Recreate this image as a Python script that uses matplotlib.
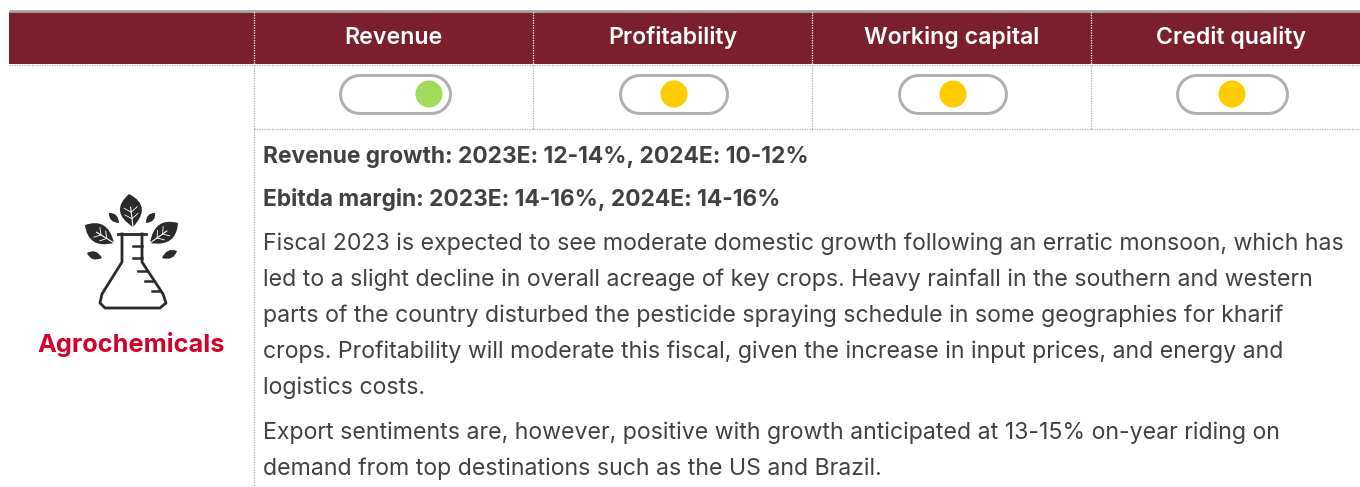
import matplotlib
matplotlib.use('Agg')
import matplotlib.pyplot as plt
from matplotlib.patches import Rectangle, Circle, PathPatch
from matplotlib.path import Path

W, H = 1360, 487
MAROON = '#7a1f2b'
GREY = '#b0b0b0'
TEXT = '#414141'

columns = ['Revenue', 'Profitability', 'Working capital', 'Credit quality']
column_edges = [254, 533, 812, 1091]
column_centers = [393.5, 673, 952, 1231]
pill_edges = [(339, 451), (619, 728), (898, 1007), (1176, 1288)]
dot_x = [429, 674, 953, 1232]
dot_colors = ['#a0dc5a', '#ffcc00', '#ffcc00', '#ffcc00']

bold_lines = ['Revenue growth: 2023E: 12-14%, 2024E: 10-12%',
              'Ebitda margin: 2023E: 14-16%, 2024E: 14-16%']
bold_y = [163, 206]
body_lines = ['Fiscal 2023 is expected to see moderate domestic growth following an erratic monsoon, which has',
              'led to a slight decline in overall acreage of key crops. Heavy rainfall in the southern and western',
              'parts of the country disturbed the pesticide spraying schedule in some geographies for kharif',
              'crops. Profitability will moderate this fiscal, given the increase in input prices, and energy and',
              'logistics costs.',
              'Export sentiments are, however, positive with growth anticipated at 13-15% on-year riding on',
              'demand from top destinations such as the US and Brazil.']
body_y = [250, 286, 322, 358, 394, 439, 475]

plt.rcParams['font.family'] = ['Inter', 'DejaVu Sans']

fig = plt.figure(figsize=(W / 100, H / 100), dpi=100)
ax = fig.add_axes([0, 0, 1, 1])
ax.set_xlim(0, W)
ax.set_ylim(H, 0)
ax.axis('off')


def dotted(xs, ys, color=GREY):
    ax.plot(xs, ys, color=color, lw=0.9, ls=(0, (1, 1)), zorder=2)


def leaf(tip, base, width, vein=True):
    # two curves from the tip to the stem end, bulged either side
    tx, ty = tip
    bx, by = base
    dx, dy = bx - tx, by - ty
    nx, ny = -dy, dx
    ln = (nx ** 2 + ny ** 2) ** 0.5
    nx, ny = nx / ln * width, ny / ln * width
    mx, my = tx + dx * 0.45, ty + dy * 0.45
    verts = [tip, (mx + nx, my + ny), base, (mx - nx, my - ny), tip]
    codes = [Path.MOVETO, Path.CURVE3, Path.CURVE3, Path.CURVE3, Path.CURVE3]
    ax.add_patch(PathPatch(Path(verts, codes), fc='#2b2b2b', ec='none', zorder=4))
    if vein:
        sx, sy = tx + dx * 0.4, ty + dy * 0.4
        ax.plot([sx, bx], [sy, by], color='white', lw=0.8, zorder=5)
        for f, s in [(0.55, 1), (0.55, -1), (0.75, 1), (0.75, -1)]:
            px, py = tx + dx * f, ty + dy * f
            ax.plot([px, px - dx * 0.14 + s * nx * 0.3], [py, py - dy * 0.14 + s * ny * 0.3],
                    color='white', lw=0.6, zorder=5)


# header band
ax.add_patch(Rectangle((9, 12), W - 9, 52, fc=MAROON, ec='none', zorder=1))
ax.plot([9, W], [11, 11], color='#a6a6a6', lw=2, zorder=2, solid_capstyle='butt')
dotted([9, W], [64.5, 64.5])
dotted([254, W], [129, 129])
for x in column_edges:
    dotted([x, x], [12, 64], color='white')
    dotted([x, x], [65, 129])
dotted([254, 254], [129, H])

for i, name in enumerate(columns):
    ax.text(column_centers[i], 44, name, color='white', fontsize=16.7, fontweight='semibold',
            ha='center', va='baseline', zorder=3)
    x0, x1 = pill_edges[i]
    # pill = fat round-capped line, grey with white on top
    ax.plot([x0 + 20, x1 - 20], [94, 94], color=GREY, lw=41 * 0.72,
            solid_capstyle='round', zorder=3)
    ax.plot([x0 + 20, x1 - 20], [94, 94], color='white', lw=35 * 0.72,
            solid_capstyle='round', zorder=3)
    ax.add_patch(Circle((dot_x[i], 94), 13.5, fc=dot_colors[i], ec='none', zorder=4))

for t, y in zip(bold_lines, bold_y):
    ax.text(263, y, t, color=TEXT, fontsize=16.4, fontweight='bold', ha='left', va='baseline')
for t, y in zip(body_lines, body_y):
    ax.text(263, y, t, color=TEXT, fontsize=16.63, ha='left', va='baseline')

ax.text(131, 352, 'Agrochemicals', color='#d3002a', fontsize=18.2, fontweight='bold',
        ha='center', va='baseline')

# flask icon
flask = [(122, 234), (122, 262), (102, 294), (100, 303), (105, 308), (160, 308), (166, 303), (163, 294),
         (142, 262), (142, 234)]
ax.plot(*zip(*flask), color='#2b2b2b', lw=2, zorder=4, solid_joinstyle='round')
ax.plot([118, 146], [233.5, 233.5], color='#2b2b2b', lw=2, zorder=4)
for x0, x1, y in [(133, 142, 246), (133, 142, 258), (138, 147, 271), (145, 154, 281), (152, 160, 291)]:
    ax.plot([x0, x1], [y, y], color='#2b2b2b', lw=1.8, zorder=4)

leaf((129, 194), (133, 227), 22)
leaf((85, 225), (114, 243), 19)
leaf((178, 223), (150, 243), 19)
leaf((109, 213), (119, 223), 7, vein=False)
leaf((155, 213), (146, 223), 7, vein=False)
leaf((87, 253), (102, 258), 8, vein=False)
leaf((177, 251), (162, 258), 8, vein=False)

fig.savefig('out.png', dpi=100)
